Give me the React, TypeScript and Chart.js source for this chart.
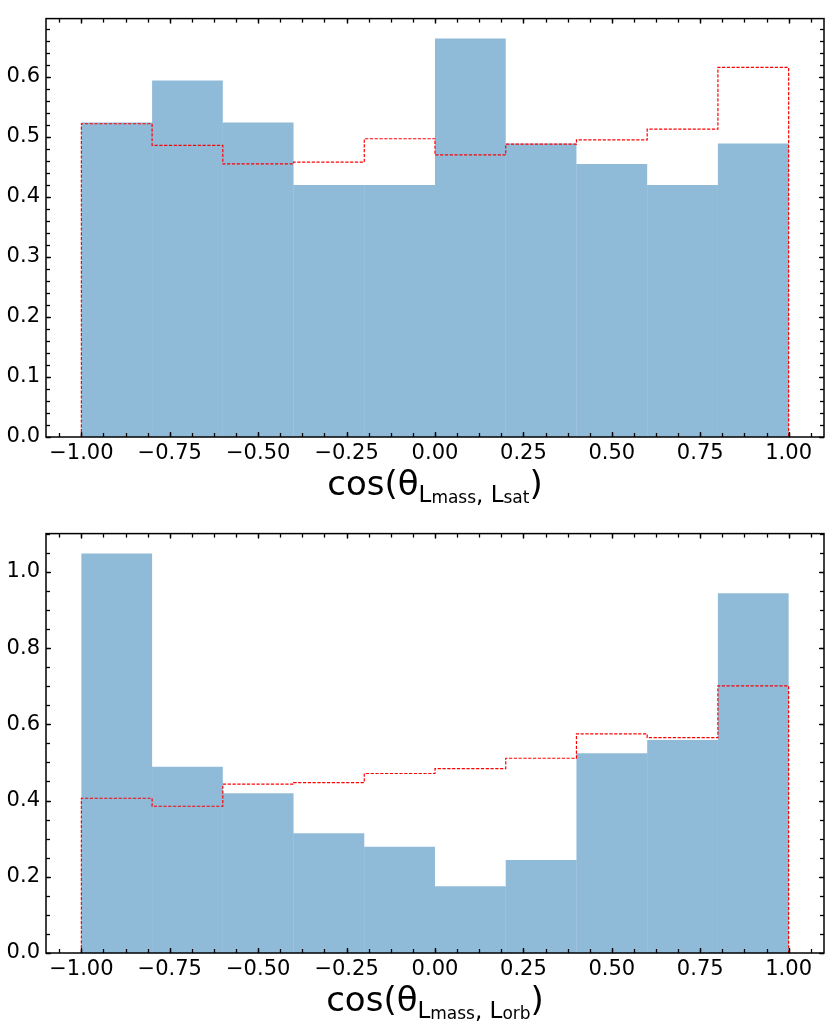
import React, { useEffect, useRef } from "react";
import { Chart, registerables } from "chart.js";

Chart.register(...registerables);

// ---------------- data ----------------
const binEdges = [-1.0, -0.8, -0.6, -0.4, -0.2, 0.0, 0.2, 0.4, 0.6, 0.8, 1.0];

// top panel: cos(theta_{L_mass, L_sat})
const satHist = [0.524, 0.594, 0.524, 0.420, 0.420, 0.664, 0.489, 0.455, 0.420, 0.489];
const satStep = [0.522, 0.486, 0.455, 0.458, 0.497, 0.470, 0.488, 0.495, 0.513, 0.616];

// bottom panel: cos(theta_{L_mass, L_orb})
const orbHist = [1.048, 0.489, 0.419, 0.314, 0.279, 0.175, 0.244, 0.524, 0.559, 0.944];
const orbStep = [0.406, 0.385, 0.443, 0.447, 0.471, 0.484, 0.511, 0.575, 0.565, 0.701];

const xTickValues = [-1.0, -0.75, -0.5, -0.25, 0.0, 0.25, 0.5, 0.75, 1.0];
const xTickLabels = ["−1.00", "−0.75", "−0.50", "−0.25", "0.00", "0.25", "0.50", "0.75", "1.00"];

const satYTickValues = [0.0, 0.1, 0.2, 0.3, 0.4, 0.5, 0.6];
const satYTickLabels = ["0.0", "0.1", "0.2", "0.3", "0.4", "0.5", "0.6"];

const orbYTickValues = [0.0, 0.2, 0.4, 0.6, 0.8, 1.0];
const orbYTickLabels = ["0.0", "0.2", "0.4", "0.6", "0.8", "1.0"];

type Seg = { t: string; lvl: number };
const satTitle: Seg[] = [
  { t: "cos(θ", lvl: 0 },
  { t: "L", lvl: 1 },
  { t: "mass", lvl: 2 },
  { t: ", ", lvl: 1 },
  { t: "L", lvl: 1 },
  { t: "sat", lvl: 2 },
  { t: ")", lvl: 0 },
];
const orbTitle: Seg[] = [
  { t: "cos(θ", lvl: 0 },
  { t: "L", lvl: 1 },
  { t: "mass", lvl: 2 },
  { t: ", ", lvl: 1 },
  { t: "L", lvl: 1 },
  { t: "orb", lvl: 2 },
  { t: ")", lvl: 0 },
];

// ---------------- styling ----------------
const FONT = "'DejaVu Sans', 'Liberation Sans', sans-serif";
const lvlSize = [34, 23, 17];
const lvlDy = [0, 7, 8];

const framePlugin = {
  id: "frame",
  afterDatasetsDraw(chart: any, _args: any, opts: any) {
    const { ctx, chartArea } = chart;
    const { left, right, top, bottom } = chartArea;
    const x = chart.scales.x;
    const y = chart.scales.y;
    ctx.save();
    ctx.strokeStyle = "#000";
    ctx.lineCap = "butt";
    const line = (x1: number, y1: number, x2: number, y2: number) => {
      ctx.beginPath();
      ctx.moveTo(x1, y1);
      ctx.lineTo(x2, y2);
      ctx.stroke();
    };
    const xTick = (v: number, len: number) => {
      const px = Math.round(x.getPixelForValue(v)) + 0.5;
      line(px, bottom, px, bottom - len);
      line(px, top, px, top + len);
    };
    const yTick = (v: number, len: number) => {
      const py = Math.round(y.getPixelForValue(v)) + 0.5;
      line(left, py, left + len, py);
      line(right, py, right - len, py);
    };
    ctx.lineWidth = 1.3;
    // minor ticks
    for (let k = -40; k <= 40; k++) {
      const v = k * opts.xMinor;
      if (v >= x.min && v <= x.max) xTick(v, 4);
    }
    for (let k = 0; k <= 200; k++) {
      const v = k * opts.yMinor;
      if (v <= y.max) yTick(v, 4);
    }
    // major ticks
    xTickValues.forEach((v) => xTick(v, 5));
    (opts.yMajor as number[]).forEach((v) => yTick(v, 5));

    // axes box
    ctx.lineWidth = 1.5;
    ctx.strokeRect(left, top, right - left, bottom - top);

    // x-axis title with nested subscripts
    const segs: Seg[] = opts.title;
    ctx.fillStyle = "#000";
    ctx.textAlign = "left";
    ctx.textBaseline = "alphabetic";
    let total = 0;
    const widths = segs.map((s) => {
      ctx.font = `${lvlSize[s.lvl]}px ${FONT}`;
      const w = ctx.measureText(s.t).width;
      total += w;
      return w;
    });
    let cx = (left + right) / 2 - total / 2;
    const base = bottom + opts.titleOffset;
    segs.forEach((s, i) => {
      ctx.font = `${lvlSize[s.lvl]}px ${FONT}`;
      ctx.fillText(s.t, cx, base + lvlDy[s.lvl]);
      cx += widths[i];
    });
    ctx.restore();
  },
};

function makeConfig(
  hist: number[],
  step: number[],
  yTicks: number[],
  yLabels: string[],
  yMinor: number,
  title: Seg[],
  padTop: number,
  xAxisHeight: number
): any {
  const barData = hist.map((v, i) => ({ x: (binEdges[i] + binEdges[i + 1]) / 2, y: v }));
  const stepData = [
    { x: binEdges[0], y: 0 },
    ...step.map((v, i) => ({ x: binEdges[i], y: v })),
    { x: binEdges[binEdges.length - 1], y: step[step.length - 1] },
    { x: binEdges[binEdges.length - 1], y: 0 },
  ];
  const yMax = Math.max(...hist, ...step) * 1.05;
  const tickFont = { family: FONT, size: 21 };
  return {
    type: "bar",
    data: {
      datasets: [
        {
          type: "bar",
          data: barData,
          backgroundColor: "rgba(31,119,180,0.5)",
          borderWidth: 0,
          inflateAmount: 0,
          barPercentage: 1,
          categoryPercentage: 1,
          order: 2,
        },
        {
          type: "line",
          data: stepData,
          borderColor: "#ff0000",
          borderWidth: 1.2,
          borderDash: [3.2, 1.6],
          pointRadius: 0,
          stepped: "before",
          fill: false,
          order: 1,
        },
      ],
    },
    options: {
      animation: false,
      responsive: true,
      maintainAspectRatio: false,
      devicePixelRatio: 1,
      layout: { padding: { top: padTop, right: 6, left: 0, bottom: 0 } },
      plugins: {
        legend: { display: false },
        tooltip: { enabled: false },
        frame: { xMinor: 0.0625, yMinor, yMajor: yTicks, title, titleOffset: 58 },
      },
      scales: {
        x: {
          type: "linear",
          min: -1.1,
          max: 1.1,
          offset: false,
          grid: { display: false, drawTicks: false },
          border: { display: false },
          afterBuildTicks: (s: any) => {
            s.ticks = xTickValues.map((v) => ({ value: v }));
          },
          afterFit: (s: any) => {
            s.height = xAxisHeight;
          },
          ticks: {
            autoSkip: false,
            maxRotation: 0,
            minRotation: 0,
            padding: 4,
            color: "#000",
            font: tickFont,
            callback: (_v: any, i: number) => xTickLabels[i],
          },
        },
        y: {
          type: "linear",
          min: 0,
          max: yMax,
          grid: { display: false, drawTicks: false },
          border: { display: false },
          afterBuildTicks: (s: any) => {
            s.ticks = yTicks.map((v) => ({ value: v }));
          },
          afterFit: (s: any) => {
            s.width = 46;
          },
          ticks: {
            padding: 6,
            color: "#000",
            font: tickFont,
            callback: (_v: any, i: number) => yLabels[i],
          },
        },
      },
    },
    plugins: [framePlugin],
  };
}

function Panel(props: { config: any; top: number; height: number }) {
  const ref = useRef<HTMLCanvasElement | null>(null);
  useEffect(() => {
    if (!ref.current) return;
    const chart = new Chart(ref.current, props.config);
    return () => chart.destroy();
  }, []);
  return (
    <div style={{ position: "absolute", left: 0, top: props.top, width: 830, height: props.height }}>
      <canvas ref={ref} />
    </div>
  );
}

export default function App() {
  const topCfg = makeConfig(satHist, satStep, satYTickValues, satYTickLabels, 0.02, satTitle, 5, 78);
  const botCfg = makeConfig(orbHist, orbStep, orbYTickValues, orbYTickLabels, 0.05, orbTitle, 8, 76);
  return (
    <div style={{ position: "absolute", left: 0, top: 0, width: 830, height: 1029, background: "#fff" }}>
      <Panel config={topCfg} top={0} height={515} />
      <Panel config={botCfg} top={515} height={514} />
    </div>
  );
}
